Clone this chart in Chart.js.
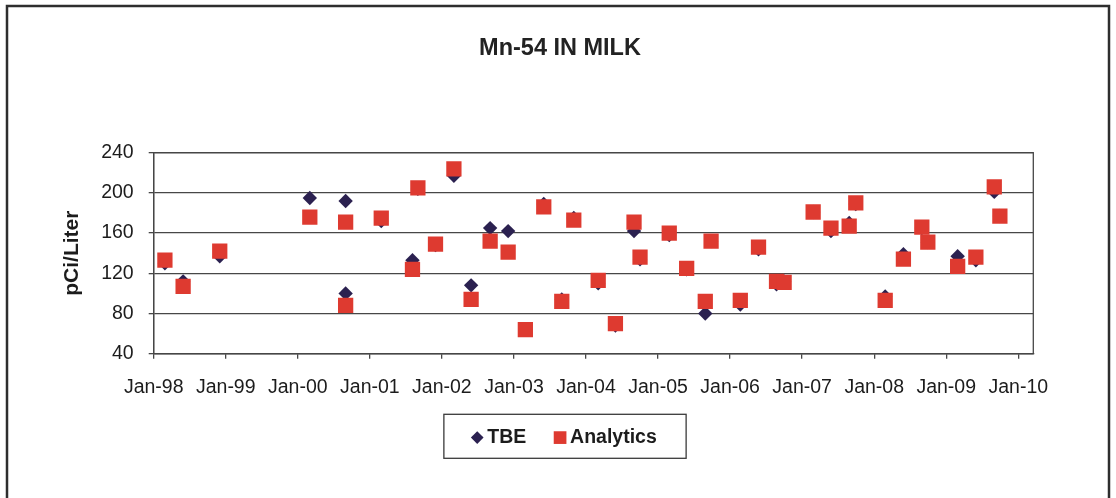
<!DOCTYPE html>
<html>
<head>
<meta charset="utf-8">
<script src="https://cdn.jsdelivr.net/npm/chart.js@4.4.1/dist/chart.umd.min.js"></script>
<style>
html,body{margin:0;padding:0;background:#fff;}
#wrap{width:1116px;height:498px;position:relative;}
</style>
</head>
<body>
<div id="wrap"><canvas id="c" width="1116" height="498"></canvas></div>
<script>
// ---- data ----
const sampleDates = [
  '1998-02-27','1998-05-28','1998-12-01','2000-03-01','2000-08-30','2000-08-30',
  '2001-02-28','2001-08-04','2001-09-01','2001-11-29','2002-03-01','2002-05-27',
  '2002-09-02','2002-12-02','2003-02-28','2003-05-30','2003-08-30','2003-10-30',
  '2004-03-02','2004-05-28','2004-09-01','2004-10-01','2005-02-27','2005-05-24',
  '2005-08-27','2005-09-26','2006-02-22','2006-05-23','2006-08-23','2006-10-01',
  '2007-02-26','2007-05-25','2007-08-26','2007-09-29','2008-02-26','2008-05-27',
  '2008-08-29','2008-09-29','2009-02-28','2009-05-29','2009-09-01','2009-09-29'
];
const tbeValues = [
  130,112,137,195,192,100,
  172,133,204,148,217,108,
  165,162,64,189,94,175,
  110,68,162,134,158,124,
  80,152,89,144,109,112,
  181,162,170,189,97,139,
  165,151,137,133,201,177
];
const analyticsValues = [
  133,107,142,176,171,88,
  175,124,205,149,224,94,
  152,141,64,186,92,173,
  113,70,171,136,160,125,
  92,152,93,146,112,111,
  181,165,167,190,93,134,
  166,151,127,136,206,177
];
const xTickLabels = ['Jan-98','Jan-99','Jan-00','Jan-01','Jan-02','Jan-03','Jan-04',
                     'Jan-05','Jan-06','Jan-07','Jan-08','Jan-09','Jan-10'];
const seriesNames = ['TBE','Analytics'];
const chartTitle = 'Mn-54 IN MILK';
const yAxisTitle = 'pCi/Liter';
const yMin = 40, yMax = 240, yStep = 40;
const xMaxMonths = 146.5;  // axis end (months after Jan-98)

// months elapsed since Jan 1998
function monthsSince(d) {
  const [y, m, day] = d.split('-').map(Number);
  return (y - 1998) * 12 + (m - 1) + (day - 1) / 30;
}
const xs = sampleDates.map(monthsSince);
const tbePoints = xs.map((x, i) => ({x, y: tbeValues[i]}));
const analyticsPoints = xs.map((x, i) => ({x, y: analyticsValues[i]}));

const FONT = '"Liberation Sans", Arial, sans-serif';
const TEXT = '#1c1c1c';
const GRID = '#474747';
const TBE_COLOR = '#2b2150';
const AN_COLOR = '#de3a30';

const framePlugin = {
  id: 'frame',
  beforeDraw(chart) {
    const ctx = chart.ctx;
    ctx.save();
    ctx.fillStyle = '#ffffff';
    ctx.fillRect(0, 0, chart.width, chart.height);
    ctx.restore();
  },
  beforeDatasetsDraw(chart) {
    const a = chart.chartArea, ctx = chart.ctx;
    ctx.save();
    ctx.strokeStyle = GRID;
    ctx.lineWidth = 1.3;
    ctx.strokeRect(a.left, a.top, a.right - a.left, a.bottom - a.top);
    ctx.restore();
  },
  afterDraw(chart) {
    const ctx = chart.ctx;
    ctx.save();
    // outer frame
    ctx.strokeStyle = '#2e2e2e';
    ctx.lineWidth = 2.5;
    ctx.strokeRect(7, 6, chart.width - 14, chart.height + 40);
    // legend
    ctx.font = 'bold 19.5px ' + FONT;
    const items = chart.data.datasets.map(ds => ({
      label: ds.label, color: ds.backgroundColor, style: ds.pointStyle,
      w: ctx.measureText(ds.label).width
    }));
    const half = 6.35, gap = 10, sep = 27.5;
    let total = 0;
    items.forEach((it, i) => { total += half + gap + it.w + (i ? sep + half : half); });
    total -= half;
    const padL = 27, padR = 23;
    const boxW = total + padL + padR;
    const cx = 565;
    const boxL = cx - boxW / 2;
    const boxT = chart.scales.x.bottom + 10.6;
    const boxH = 44;
    const cy = boxT + 23.3;
    ctx.strokeStyle = '#3a3a3a';
    ctx.lineWidth = 1.3;
    ctx.strokeRect(boxL, boxT, boxW, boxH);
    let x = boxL + padL;
    ctx.textBaseline = 'middle';
    ctx.textAlign = 'left';
    items.forEach(it => {
      const mx = x + half;
      ctx.fillStyle = it.color;
      ctx.beginPath();
      if (it.style === 'rectRot') {
        ctx.moveTo(mx, cy - half); ctx.lineTo(mx + half, cy);
        ctx.lineTo(mx, cy + half); ctx.lineTo(mx - half, cy); ctx.closePath();
      } else {
        ctx.rect(mx - half, cy - half, half * 2, half * 2);
      }
      ctx.fill();
      ctx.fillStyle = TEXT;
      ctx.fillText(it.label, mx + gap, cy);
      x = mx + gap + it.w + sep;
    });
    ctx.restore();
  }
};

new Chart(document.getElementById('c'), {
  type: 'scatter',
  data: {
    datasets: [
      { label: seriesNames[0], data: tbePoints, pointStyle: 'rectRot', pointRadius: 7.2,
        pointHoverRadius: 7.2, backgroundColor: TBE_COLOR, borderColor: TBE_COLOR,
        borderWidth: 0, order: 1 },
      { label: seriesNames[1], data: analyticsPoints, pointStyle: 'rect', pointRadius: 10.8,
        pointHoverRadius: 10.8, backgroundColor: AN_COLOR, borderColor: AN_COLOR,
        borderWidth: 0, order: 0 }
    ]
  },
  options: {
    responsive: false,
    animation: false,
    devicePixelRatio: 1,
    layout: { padding: { left: 4, right: 0, top: 0, bottom: 94.3 } },
    plugins: {
      legend: { display: false },
      tooltip: { enabled: false },
      title: {
        display: true, text: chartTitle, color: '#222',
        font: { family: FONT, size: 23.5, weight: 'bold', lineHeight: 1.2 },
        padding: { top: 34.9, bottom: 89.6 }
      }
    },
    scales: {
      x: {
        type: 'linear', position: 'bottom', min: 0, max: xMaxMonths,
        afterFit: s => { s.height = 50; },
        grid: { drawOnChartArea: false, drawTicks: true, tickLength: 5, color: GRID, lineWidth: 1.3 },
        border: { display: true, color: GRID, width: 1.3 },
        ticks: {
          stepSize: 12, includeBounds: false, autoSkip: false, maxRotation: 0,
          padding: 17.3, color: TEXT, font: { family: FONT, size: 19.5 },
          callback: v => xTickLabels[Math.round(v / 12)] ?? ''
        }
      },
      y: {
        type: 'linear', position: 'left', min: yMin, max: yMax,
        afterFit: s => { s.width = 149.7; },
        grid: { drawOnChartArea: true, drawTicks: true, tickLength: 5, color: GRID, lineWidth: 1.3 },
        border: { display: true, color: GRID, width: 1.3 },
        ticks: { stepSize: yStep, padding: 15, color: TEXT, font: { family: FONT, size: 19.5 } },
        title: {
          display: true, text: yAxisTitle, color: TEXT,
          font: { family: FONT, size: 21, weight: 'bold', lineHeight: 1.2 },
          padding: { top: 55.4, bottom: 0 }
        }
      },
      yR: {
        type: 'linear', position: 'right', display: true,
        afterFit: s => { s.width = 82.7; },
        grid: { display: false }, border: { display: false },
        ticks: { display: false }
      }
    }
  },
  plugins: [framePlugin]
});
</script>
</body>
</html>
